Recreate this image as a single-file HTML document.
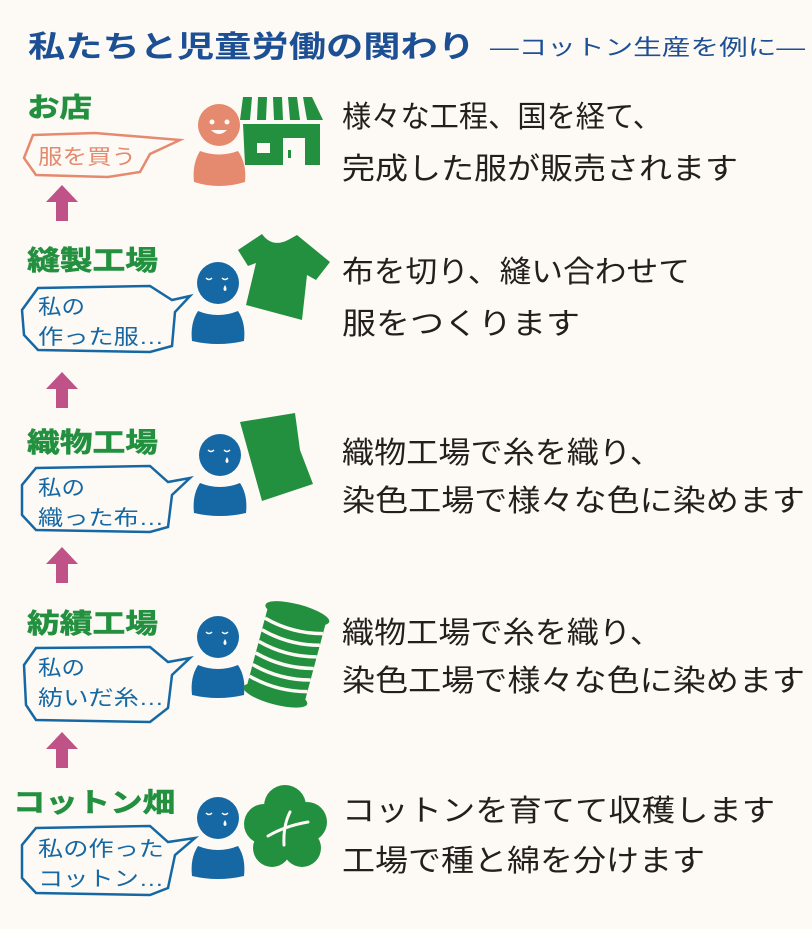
<!DOCTYPE html>
<html><head><meta charset="utf-8"><style>
html,body{margin:0;padding:0;background:#fdfaf5;}
svg{display:block}
text{font-family:"Liberation Sans","Noto Sans CJK JP",sans-serif;}
</style></head><body>
<svg width="812" height="929" viewBox="0 0 812 929" xmlns="http://www.w3.org/2000/svg">
<rect width="812" height="929" fill="#fdfaf5"/>
<defs>
<g id="pb">
 <circle cx="0" cy="0" r="21" fill="#1668a4"/>
 <path d="M-26 58 Q-28 40 -20 28 Q0 36 20 28 Q28 40 26 58 Q0 64 -26 58Z" fill="#1668a4"/>
 <path d="M-12 -5 q3 3 6 0 M4 -5 q3 3 6 0" stroke="#fff" stroke-width="1.5" fill="none"/>
 <path d="M7 2 q-3 5 0 6 q3 -1 0 -6Z" fill="#fff"/>
</g>
<g id="up"><path d="M-16 14 L0 -3 L16 14 L6 14 L6 33 L-6 33 L-6 14Z" fill="#bf5286"/></g>
</defs>

<!-- title -->
<text x="28" y="57" font-size="30" font-weight="bold" fill="#1d4f95" textLength="447" lengthAdjust="spacingAndGlyphs">私たちと児童労働の関わり</text>
<text x="490" y="55" font-size="22" fill="#1d4f95" textLength="315" lengthAdjust="spacingAndGlyphs">―コットン生産を例に―</text>

<!-- labels -->
<g font-size="27" font-weight="bold" fill="#23903f" stroke="#23903f" stroke-width="0.6">
<text x="27" y="117" textLength="65" lengthAdjust="spacingAndGlyphs">お店</text>
<text x="27" y="270" textLength="131" lengthAdjust="spacingAndGlyphs">縫製工場</text>
<text x="27" y="452" textLength="131" lengthAdjust="spacingAndGlyphs">織物工場</text>
<text x="27" y="633" textLength="131" lengthAdjust="spacingAndGlyphs">紡績工場</text>
<text x="13" y="812" textLength="162" lengthAdjust="spacingAndGlyphs">コットン畑</text>
</g>

<!-- arrows -->
<use href="#up" x="62" y="188"/>
<use href="#up" x="62" y="375"/>
<use href="#up" x="62" y="550"/>
<use href="#up" x="62" y="735"/>

<!-- row1 bubble -->
<path d="M33 135 L95 133 L180 140 L150 154 L140 172 L108 177 L36 175 L24 158Z" fill="none" stroke="#e58a6e" stroke-width="2.5"/>
<text x="38" y="164" font-size="21" fill="#e58a6e" textLength="98" lengthAdjust="spacingAndGlyphs">服を買う</text>
<!-- salmon person -->
<circle cx="219" cy="125" r="21" fill="#e58a6e"/>
<circle cx="212" cy="122" r="2.5" fill="#fdfaf5"/><circle cx="227" cy="122" r="2.5" fill="#fdfaf5"/>
<path d="M211 130 Q219 138 227 130Z" fill="#fdfaf5"/>
<path d="M194 182 Q192 164 200 151 Q219 158 238 151 Q247 164 245 182 Q219 190 194 182Z" fill="#e58a6e"/>
<!-- shop -->
<g fill="#23903f">
<path d="M243 97 L252 97 L250 120 L240 120Z"/>
<path d="M258 97 L267 97 L266 120 L257 120Z"/>
<path d="M273 97 L282 97 L283 120 L274 120Z"/>
<path d="M288 97 L297 97 L300 120 L290 120Z"/>
<path d="M303 97 L312 97 L323 120 L307 120Z"/>
<path d="M243 124 L320 124 L320 165 L305 165 L305 138 L283 138 L283 165 L245 165 Z"/>
</g>
<rect x="257" y="143" width="13" height="10" fill="#fdfaf5"/>
<rect x="288" y="150" width="3" height="8" fill="#23903f"/>

<!-- row2 -->
<path d="M38 288 L150 286 L172 300 L190 296 L175 312 L172 346 L150 352 L38 350 L24 335 L22 310Z" fill="none" stroke="#1668a4" stroke-width="2.5"/>
<g font-size="21" fill="#1668a4">
<text x="38" y="314" textLength="47" lengthAdjust="spacingAndGlyphs">私の</text>
<text x="38" y="344" textLength="126" lengthAdjust="spacingAndGlyphs">作った服…</text>
</g>
<use href="#pb" x="218" y="283"/>
<path d="M238 250 L262 234 Q272 248 288 240 L297 235 L330 262 L316 280 L307 275 L302 320 L246 305 L256 263 L248 266Z" fill="#23903f"/>

<!-- row3 -->
<path d="M36 468 L150 466 L168 482 L190 478 L172 495 L168 527 L150 532 L36 530 L22 515 L22 485Z" fill="none" stroke="#1668a4" stroke-width="2.5"/>
<g font-size="21" fill="#1668a4">
<text x="38" y="495" textLength="47" lengthAdjust="spacingAndGlyphs">私の</text>
<text x="38" y="525" textLength="126" lengthAdjust="spacingAndGlyphs">織った布…</text>
</g>
<use href="#pb" x="220" y="455"/>
<path d="M240 422 L295 413 L300 450 L313 484 L262 501Z" fill="#23903f"/>

<!-- row4 -->
<path d="M36 648 L150 647 L168 662 L190 658 L172 675 L168 708 L150 722 L36 720 L26 705 L24 665Z" fill="none" stroke="#1668a4" stroke-width="2.5"/>
<g font-size="21" fill="#1668a4">
<text x="38" y="675" textLength="47" lengthAdjust="spacingAndGlyphs">私の</text>
<text x="38" y="705" textLength="126" lengthAdjust="spacingAndGlyphs">紡いだ糸…</text>
</g>
<use href="#pb" x="218" y="637"/>
<g transform="translate(287 652) rotate(15)">
<rect x="-30" y="-40" width="60" height="85" fill="#23903f"/>
<ellipse cx="0" cy="-40" rx="33" ry="9" fill="#23903f"/>
<ellipse cx="0" cy="45" rx="33" ry="9" fill="#23903f"/>
<g stroke="#fdfaf5" stroke-width="3.5" fill="none">
<path d="M-30 -27 Q0 -19 30 -27"/><path d="M-30 -15 Q0 -7 30 -15"/><path d="M-30 -3 Q0 5 30 -3"/>
<path d="M-30 9 Q0 17 30 9"/><path d="M-30 21 Q0 29 30 21"/><path d="M-30 33 Q0 41 30 33"/>
</g>
</g>

<!-- row5 -->
<path d="M36 828 L150 826 L168 842 L195 838 L175 855 L168 888 L150 895 L36 893 L22 878 L22 845Z" fill="none" stroke="#1668a4" stroke-width="2.5"/>
<g font-size="21" fill="#1668a4">
<text x="38" y="856" textLength="126" lengthAdjust="spacingAndGlyphs">私の作った</text>
<text x="38" y="886" textLength="126" lengthAdjust="spacingAndGlyphs">コットン…</text>
</g>
<use href="#pb" x="218" y="818"/>
<g fill="#23903f">
<circle cx="285" cy="806" r="21"/><circle cx="264" cy="824" r="20"/><circle cx="307" cy="822" r="20"/>
<circle cx="272" cy="848" r="19"/><circle cx="302" cy="848" r="19"/><circle cx="286" cy="828" r="25"/>
</g>
<path d="M268 836 Q285 826 308 822 M290 812 Q283 826 284 845" stroke="#fdfaf5" stroke-width="3" fill="none" stroke-linecap="round"/>

<!-- right texts -->
<g font-size="30" fill="#231f1c">
<text x="342" y="127" textLength="320" lengthAdjust="spacingAndGlyphs">様々な工程、国を経て、</text>
<text x="342" y="179" textLength="396" lengthAdjust="spacingAndGlyphs">完成した服が販売されます</text>
<text x="342" y="282" textLength="348" lengthAdjust="spacingAndGlyphs">布を切り、縫い合わせて</text>
<text x="342" y="334" textLength="238" lengthAdjust="spacingAndGlyphs">服をつくります</text>
<text x="342" y="463" textLength="320" lengthAdjust="spacingAndGlyphs">織物工場で糸を織り、</text>
<text x="342" y="511" textLength="463" lengthAdjust="spacingAndGlyphs">染色工場で様々な色に染めます</text>
<text x="342" y="643" textLength="320" lengthAdjust="spacingAndGlyphs">織物工場で糸を織り、</text>
<text x="342" y="691" textLength="463" lengthAdjust="spacingAndGlyphs">染色工場で様々な色に染めます</text>
<text x="342" y="821" textLength="433" lengthAdjust="spacingAndGlyphs">コットンを育てて収穫します</text>
<text x="342" y="871" textLength="363" lengthAdjust="spacingAndGlyphs">工場で種と綿を分けます</text>
</g>
</svg>
</body></html>
